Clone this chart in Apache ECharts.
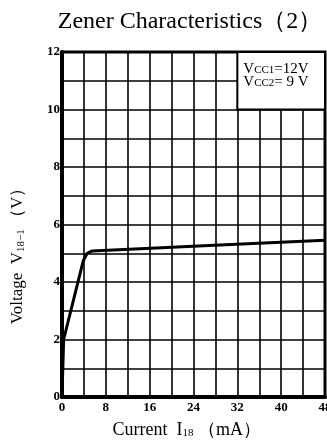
<!DOCTYPE html>
<html>
<head>
<meta charset="utf-8">
<script src="https://cdn.jsdelivr.net/npm/echarts@6/dist/echarts.min.js"></script>
<style>
  html, body { margin: 0; padding: 0; background: #fff; }
  #chart { width: 327px; height: 442px; }
</style>
</head>
<body>
<div id="chart"></div>
<script>
// Zener current vs. voltage readings
const currentMA = [0, 0.3, 3.9, 4.6, 5.5, 28.8, 48];
const voltageV  = [0, 2.0, 4.75, 5.0, 5.08, 5.29, 5.45];

// Axis ranges and label steps
const xRange = [0, 48];
const yRange = [0, 12];
const xLabelStep = 8;
const yLabelStep = 2;

// Supply note box corners (mA, V)
const noteBox = [[32, 12], [48, 10]];

const serif = '"Liberation Serif", "DejaVu Serif", serif';

const chart = echarts.init(document.getElementById('chart'));
chart.setOption({
  animation: false,
  backgroundColor: '#fff',
  title: {
    text: 'Zener Characteristics（2）',
    left: 185,
    textAlign: 'center',
    top: 5,
    textStyle: { fontFamily: serif, fontSize: 24, fontWeight: 'normal', color: '#000' }
  },
  grid: {
    left: 62, right: 2, top: 52, bottom: 45,
    outerBoundsMode: 'none',
    containLabel: false,
    show: true, borderColor: '#000', borderWidth: 3, backgroundColor: 'transparent'
  },
  xAxis: {
    type: 'value', min: xRange[0], max: xRange[1], interval: 4,
    name: 'Current  {i|I}{s|18} （mA）   ',
    nameLocation: 'middle', nameGap: 24,
    nameTextStyle: {
      fontFamily: serif, fontSize: 18, color: '#000',
      rich: {
        i: { fontFamily: serif, fontSize: 18, color: '#000' },
        s: { fontFamily: serif, fontSize: 11, color: '#000', verticalAlign: 'bottom', padding: [6, 0, 0, 0] }
      }
    },
    axisLine: { show: true, lineStyle: { color: '#000', width: 4 } },
    axisTick: { show: false },
    axisLabel: {
      margin: 4, fontFamily: serif, fontSize: 13, fontWeight: 'bold', color: '#000',
      hideOverlap: false,
      formatter: v => (v % xLabelStep === 0 ? String(v) : '')
    },
    splitLine: { show: true, lineStyle: { color: '#000', width: 1.6 } }
  },
  yAxis: {
    type: 'value', min: yRange[0], max: yRange[1], interval: 1,
    axisLine: { show: true, lineStyle: { color: '#000', width: 4 } },
    axisTick: { show: false },
    axisLabel: {
      margin: 2, fontFamily: serif, fontSize: 13, fontWeight: 'bold', color: '#000',
      formatter: v => (v % yLabelStep === 0 ? String(v) : '')
    },
    splitLine: { show: true, lineStyle: { color: '#000', width: 1.6 } }
  },
  graphic: [{
    type: 'text',
    x: 18, y: 252,
    rotation: Math.PI / 2,
    style: {
      text: '{t|Voltage  V}{s|18−1} {t|（V）}',
      align: 'center', verticalAlign: 'middle',
      rich: {
        t: { fontFamily: serif, fontSize: 17, fill: '#000' },
        s: { fontFamily: serif, fontSize: 11, fill: '#000', verticalAlign: 'bottom', padding: [6, 0, 0, 0] }
      }
    }
  }],
  series: [{
    type: 'line',
    data: currentMA.map((x, i) => [x, voltageV[i]]),
    showSymbol: false,
    lineStyle: { color: '#000', width: 3 },
    z: 5,
    markArea: {
      silent: true,
      itemStyle: { color: '#fff', borderColor: '#000', borderWidth: 2 },
      label: {
        show: true,
        position: [7, 12],
        formatter: '{v|V}{s|CC1}{v|=12V}\n{v|V}{s|CC2}{v|= 9 V}',
        rich: {
          v: { fontFamily: serif, fontSize: 15, color: '#000', lineHeight: 13 },
          s: { fontFamily: serif, fontSize: 11, color: '#000', lineHeight: 13, verticalAlign: 'bottom' }
        }
      },
      data: [[{ coord: noteBox[0] }, { coord: noteBox[1] }]]
    }
  }]
});
</script>
</body>
</html>
